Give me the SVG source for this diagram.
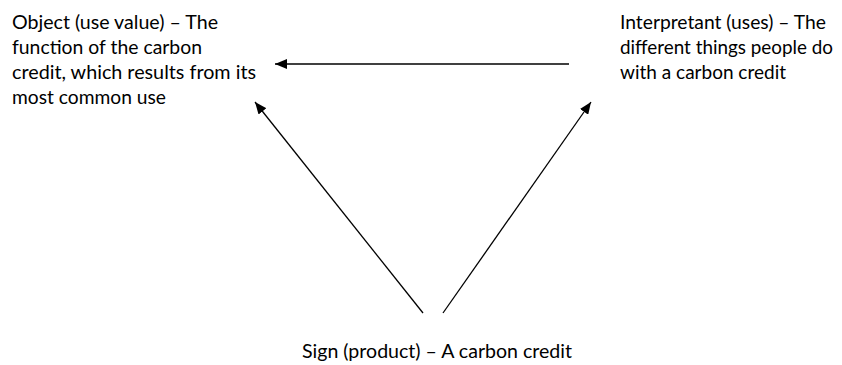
<svg xmlns="http://www.w3.org/2000/svg" width="842" height="365" viewBox="0 0 842 365">
<defs>
<style>
text{font-family:"Lato","Open Sans","Liberation Sans",sans-serif;font-size:19.5px;fill:#000}
.c{stroke:#000;stroke-width:1.3;fill:none}
</style>
<marker id="ah" viewBox="0 0 12 10" refX="12" refY="5" markerWidth="12" markerHeight="10" markerUnits="userSpaceOnUse" orient="auto">
<path d="M0,0L12,5L0,10z" fill="#000"/>
</marker>
</defs>
<rect width="842" height="365" fill="#fff"/>
<g id="object">
<text x="12" y="29" textLength="206" lengthAdjust="spacingAndGlyphs">Object (use value) – The</text>
<text x="12" y="54" textLength="190" lengthAdjust="spacingAndGlyphs">function of the carbon</text>
<text x="12" y="79" textLength="244" lengthAdjust="spacingAndGlyphs">credit, which results from its</text>
<text x="12" y="104" textLength="154" lengthAdjust="spacingAndGlyphs">most common use</text>
</g>
<g id="interpretant">
<text x="620" y="29" textLength="206" lengthAdjust="spacingAndGlyphs">Interpretant (uses) – The</text>
<text x="620" y="54" textLength="213" lengthAdjust="spacingAndGlyphs">different things people do</text>
<text x="620" y="79" textLength="166" lengthAdjust="spacingAndGlyphs">with a carbon credit</text>
</g>
<g id="sign">
<text x="302" y="358" textLength="270" lengthAdjust="spacingAndGlyphs">Sign (product) – A carbon credit</text>
</g>
<g id="connectors">
<line class="c" x1="569" y1="64" x2="275" y2="64" marker-end="url(#ah)"/>
<line class="c" x1="423" y1="313" x2="255" y2="102" marker-end="url(#ah)"/>
<line class="c" x1="443" y1="313" x2="591" y2="102" marker-end="url(#ah)"/>
</g>
</svg>
